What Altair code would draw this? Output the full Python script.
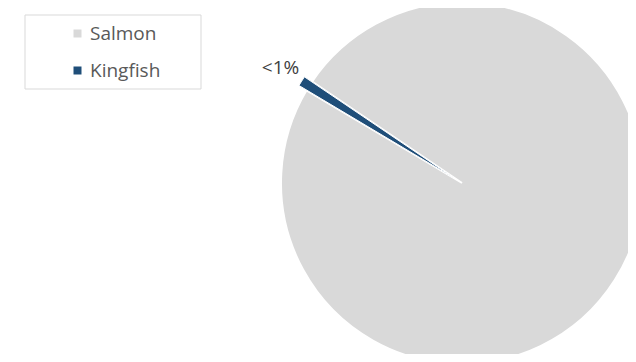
import altair as alt
import pandas as pd
import math

# data
categories = ["Salmon", "Kingfish"]
shares = [99.1, 0.9]
labels = ["", "<1%"]
slice_order = [0, 1]

colors = ["#d9d9d9", "#1f4e79"]

df = pd.DataFrame({
    "category": categories,
    "share": shares,
    "label": labels,
    "idx": slice_order,
})

start = math.radians(304.05)
theta_scale = alt.Scale(range=[start, start + 2 * math.pi])

CX, CY = 454, 175          # pie centre inside the view
R = 181
EX, EY = -7.6, -4.8        # explosion of the small slice

FONT = "Open Sans"

theta = alt.Theta("share:Q", stack=True, scale=theta_scale)
order = alt.Order("idx:Q")
color = alt.Color(
    "category:N",
    scale=alt.Scale(domain=categories, range=colors),
    sort=categories,
    legend=alt.Legend(
        title=None,
        orient="none",
        legendX=60,
        legendY=16,
        symbolType="square",
        symbolSize=64,
        symbolStrokeWidth=0,
        labelFont=FONT,
        labelFontSize=19,
        labelColor="#595959",
        labelOffset=3,
        rowPadding=17,
        padding=0,
    ),
)

base = alt.Chart(df)

main = base.mark_arc(radius=R, stroke="white", strokeWidth=2).encode(
    theta=theta,
    order=order,
    color=color,
    opacity=alt.condition("datum.category == 'Salmon'", alt.value(1), alt.value(0)),
    x=alt.value(CX),
    y=alt.value(CY),
)

exploded = base.mark_arc(radius=R, stroke="white", strokeWidth=1).encode(
    theta=theta,
    order=order,
    color=color,
    opacity=alt.condition("datum.category == 'Kingfish'", alt.value(1), alt.value(0)),
    x=alt.value(CX + EX),
    y=alt.value(CY + EY),
)

text = base.mark_text(radius=215, font=FONT, fontSize=19, color="#404040").encode(
    theta=theta,
    order=order,
    text="label:N",
    x=alt.value(CX),
    y=alt.value(CY),
)

frame = alt.Chart(alt.Data(values=[{"f": 1}])).mark_rect(
    fill=None, stroke="#d9d9d9", strokeWidth=1
).encode(
    x=alt.value(17), x2=alt.value(193), y=alt.value(7), y2=alt.value(81)
)

chart = alt.layer(frame, main, exploded, text).properties(
    width=620,
    height=346,
    autosize=alt.AutoSizeParams(type="none"),
    padding=0,
).configure_view(stroke=None)

chart.save("out.html", embed_options={"renderer": "svg", "actions": False})
